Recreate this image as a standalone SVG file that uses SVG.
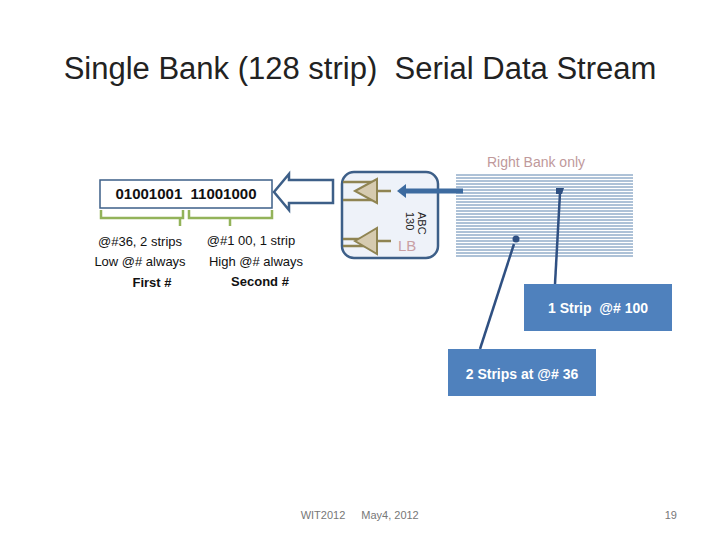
<svg xmlns="http://www.w3.org/2000/svg" width="720" height="540" viewBox="0 0 720 540">
<style>
.t{font-family:"Liberation Sans",Arial,sans-serif;white-space:pre}
.s{stroke:#4a77a6;stroke-width:0.9}
.br{fill:none;stroke:#93b35a;stroke-width:2.5}
.am{fill:#d6cbb0;stroke:#8f8452;stroke-width:2}
.al{stroke:#8f8452;stroke-width:2.5}
.bx{fill:#4f81bd}
.wt{fill:#fff;font-size:14px;font-weight:bold}
</style>
<rect width="720" height="540" fill="#fff"/>
<text class="t" x="360" y="79" font-size="31" text-anchor="middle" fill="#222">Single Bank (128 strip)  Serial Data Stream</text>
<text class="t" x="536" y="167" font-size="14" text-anchor="middle" fill="#c0999b">Right Bank only</text>
<g id="strips">
<path class="s" d="M456 175H633M456 178H633M456 181H633M456 184H633M456 187H633M456 190H633M456 193H633M456 196H633M456 199H633M456 202H633M456 205H633M456 208H633M456 211H633M456 214H633M456 217H633M456 220H633M456 223H633M456 226H633M456 229H633M456 232H633M456 235H633M456 238H633M456 241H633M456 244H633M456 247H633M456 250H633M456 253H633M456 256H633"/>
</g>
<g id="chip">
<rect x="342" y="172" width="96" height="86" rx="12" fill="#eef2f9" stroke="#3d5f88" stroke-width="2.5"/>
<path class="al" d="M343 182H372M343 200H372M375 191H391M343 239H372M343 246H372M375 241H391"/>
<path class="am" d="M355 191L377 179V203Z"/>
<path class="am" d="M355 241L377 228V254Z"/>
<text class="t" x="418" y="212" font-size="11" transform="rotate(90 418 212)" fill="#222">ABC</text>
<text class="t" x="406" y="212" font-size="11" transform="rotate(90 406 212)" fill="#222">130</text>
<text class="t" x="398" y="251" font-size="15" fill="#c9a0a4">LB</text>
</g>
<g id="connectors">
<path d="M463 191H403" stroke="#3d6ba0" stroke-width="5"/>
<path d="M397 191L406 184V198Z" fill="#3d6ba0"/>
<path d="M333 180H289V174L274 192L289 210V203H333Z" fill="#fff" stroke="#3d5f88" stroke-width="2.5"/>
<path d="M555 284L560 193" stroke="#2f5082" stroke-width="2.5"/>
<path d="M556 188h8l-2 6h-6z" fill="#2f5082"/>
<path d="M480 349L514 244" stroke="#2f5082" stroke-width="2.5"/>
<circle cx="516" cy="239" r="3.5" fill="#2f5082"/>
</g>
<g id="bits">
<rect x="100" y="180" width="172" height="28" fill="#fff" stroke="#3d5f88" stroke-width="1.5"/>
<text class="t" x="186" y="199" font-size="15" font-weight="bold" text-anchor="middle" fill="#111">01001001  11001000</text>
<path class="br" d="M101 210V218H180V226M180 218H183V210"/>
<path class="br" d="M189 210V218H230V226M230 218H272V210"/>
</g>
<g id="labels" class="t" font-size="13" fill="#111">
<text x="140" y="246" text-anchor="middle">@#36, 2 strips</text>
<text x="140" y="266" text-anchor="middle">Low @# always</text>
<text x="152" y="287" text-anchor="middle" font-weight="bold">First #</text>
<text x="251" y="245" text-anchor="middle">@#1 00, 1 strip</text>
<text x="256" y="266" text-anchor="middle">High @# always</text>
<text x="260" y="286" text-anchor="middle" font-weight="bold">Second #</text>
</g>
<g id="box1"><rect class="bx" x="524" y="284" width="148" height="47"/><text class="t wt" x="598" y="313" text-anchor="middle">1 Strip  @# 100</text></g>
<g id="box2"><rect class="bx" x="448" y="349" width="148" height="47"/><text class="t wt" x="522" y="379" text-anchor="middle">2 Strips at @# 36</text></g>
<g class="t" font-size="11" fill="#777">
<text x="323" y="519" text-anchor="middle">WIT2012</text>
<text x="390" y="519" text-anchor="middle">May4, 2012</text>
<text x="677" y="519" text-anchor="end">19</text>
</g>
</svg>
